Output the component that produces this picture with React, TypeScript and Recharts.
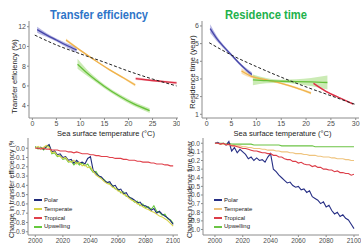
import { ComposedChart, LineChart, Line, Area, XAxis, YAxis, Legend } from 'recharts'

// ---- top panels: value vs sea surface temperature ----
const SST_TICKS = [0, 5, 10, 15, 20, 25, 30]

// transfer efficiency (%)
const TE_POLAR_SST = [1, 3, 5, 7, 9.2]
const TE_POLAR = [11.7, 11.15, 10.65, 10.15, 9.65]
const TE_POLAR_LO = [11.4, 10.95, 10.5, 9.95, 9.35]
const TE_POLAR_HI = [12.0, 11.35, 10.8, 10.35, 9.95]

const TE_TEMP_SST = [7, 10, 13, 16, 19, 21.4]
const TE_TEMP = [10.65, 9.6, 8.6, 7.65, 6.8, 6.1]
const TE_TEMP_LO = [10.5, 9.5, 8.52, 7.57, 6.7, 5.95]
const TE_TEMP_HI = [10.8, 9.7, 8.68, 7.73, 6.9, 6.25]

const TE_UPW_SST = [9.4, 12, 15, 18, 21, 24.4]
const TE_UPW = [8.2, 7.05, 5.95, 5.0, 4.2, 3.5]
const TE_UPW_LO = [7.75, 6.8, 5.75, 4.8, 3.98, 3.25]
const TE_UPW_HI = [8.75, 7.35, 6.15, 5.2, 4.42, 3.75]

const TE_TROP_SST = [21.5, 24, 27, 30]
const TE_TROP = [6.75, 6.6, 6.45, 6.3]
const TE_TROP_LO = [6.6, 6.5, 6.35, 6.15]
const TE_TROP_HI = [6.9, 6.7, 6.55, 6.45]

const TE_ALL_SST = [0.5, 5, 10, 15, 20, 25, 30]
const TE_ALL = [11.15, 10.15, 9.25, 8.4, 7.5, 6.7, 6.0]
const TE_TICKS = [4, 6, 8, 10, 12]

// residence time (year)
const RT_POLAR_SST = [0.7, 2, 3.5, 5, 6.5, 8, 9.1]
const RT_POLAR = [5.85, 5.3, 4.8, 4.35, 3.9, 3.5, 3.25]
const RT_POLAR_LO = [5.6, 5.15, 4.7, 4.27, 3.82, 3.4, 3.12]
const RT_POLAR_HI = [6.1, 5.45, 4.9, 4.43, 3.98, 3.6, 3.38]

const RT_TEMP_SST = [7, 9, 12, 15, 18, 21]
const RT_TEMP = [3.45, 3.15, 2.95, 2.75, 2.5, 2.2]
const RT_TEMP_LO = [3.3, 3.05, 2.9, 2.7, 2.44, 2.12]
const RT_TEMP_HI = [3.6, 3.25, 3.0, 2.8, 2.56, 2.28]

const RT_UPW_SST = [9.3, 12, 15, 18, 21, 24.3]
const RT_UPW = [2.95, 2.9, 2.87, 2.85, 2.83, 2.8]
const RT_UPW_LO = [2.65, 2.75, 2.78, 2.72, 2.6, 2.4]
const RT_UPW_HI = [3.25, 3.05, 2.96, 2.98, 3.06, 3.2]

const RT_TROP_SST = [21.5, 24, 27, 29.5]
const RT_TROP = [2.75, 2.3, 1.9, 1.58]
const RT_TROP_LO = [2.68, 2.25, 1.86, 1.52]
const RT_TROP_HI = [2.82, 2.35, 1.94, 1.64]

const RT_ALL_SST = [0.5, 5, 10, 15, 20, 25, 30]
const RT_ALL = [5.05, 4.35, 3.7, 3.1, 2.55, 2.05, 1.55]
const RT_TICKS = [1, 2, 3, 4, 5, 6]

// ---- bottom panels: change through time ----
const YEARS = [
  2000, 2002, 2004, 2006, 2008, 2010, 2012, 2014, 2016, 2018,
  2020, 2022, 2024, 2026, 2028, 2030, 2032, 2034, 2036, 2038,
  2040, 2042, 2044, 2046, 2048, 2050, 2052, 2054, 2056, 2058,
  2060, 2062, 2064, 2066, 2068, 2070, 2072, 2074, 2076, 2078,
  2080, 2082, 2084, 2086, 2088, 2090, 2092, 2094, 2096, 2098,
  2100,
]
const YEAR_TICKS = [2000, 2020, 2040, 2060, 2080, 2100]

const TE_CHG_POLAR = [
  0.01, 0.0, 0.01, -0.01, 0.02, 0.04, -0.04, -0.03, -0.07, -0.06,
  -0.1, -0.09, -0.13, -0.12, -0.16, -0.13, -0.16, -0.15, -0.17, -0.11,
  -0.09, -0.24, -0.27, -0.3, -0.31, -0.35, -0.37, -0.36, -0.41, -0.4,
  -0.45, -0.44, -0.49, -0.48, -0.53, -0.54, -0.56, -0.59, -0.58, -0.62,
  -0.62, -0.64, -0.67, -0.65, -0.7, -0.68, -0.71, -0.73, -0.75, -0.78,
  -0.82,
]
const TE_CHG_TEMP = [
  0.0, 0.02, 0.0, 0.01, 0.03, 0.01, -0.05, -0.04, -0.08, -0.09,
  -0.11, -0.1, -0.14, -0.15, -0.13, -0.17, -0.15, -0.19, -0.18, -0.21,
  -0.2, -0.25, -0.29, -0.31, -0.33, -0.36, -0.38, -0.39, -0.42, -0.43,
  -0.46, -0.47, -0.5, -0.51, -0.54, -0.56, -0.57, -0.6, -0.61, -0.63,
  -0.65, -0.66, -0.68, -0.69, -0.71, -0.73, -0.74, -0.76, -0.78, -0.81,
  -0.84,
]
const TE_CHG_TROP = [
  0.0, 0.0, -0.01, 0.0, -0.01, -0.01, -0.02, -0.02, -0.02, -0.03,
  -0.03, -0.03, -0.04, -0.04, -0.05, -0.04, -0.05, -0.06, -0.06, -0.06,
  -0.07, -0.07, -0.08, -0.08, -0.09, -0.09, -0.09, -0.1, -0.1, -0.11,
  -0.11, -0.11, -0.12, -0.12, -0.13, -0.13, -0.13, -0.14, -0.14, -0.15,
  -0.15, -0.15, -0.16, -0.16, -0.17, -0.17, -0.17, -0.18, -0.18, -0.19,
  -0.19,
]
const TE_CHG_UPW = [
  0.02, -0.01, 0.01, -0.02, 0.01, 0.03, -0.06, -0.05, -0.09, -0.08,
  -0.12, -0.11, -0.15, -0.14, -0.18, -0.15, -0.18, -0.16, -0.19, -0.17,
  -0.22, -0.26, -0.25, -0.3, -0.32, -0.34, -0.37, -0.38, -0.4, -0.44,
  -0.44, -0.48, -0.47, -0.52, -0.52, -0.55, -0.58, -0.57, -0.62, -0.6,
  -0.64, -0.63, -0.66, -0.62, -0.68, -0.69, -0.72, -0.71, -0.76, -0.77,
  -0.81,
]
const TE_CHG_TICKS = [0, -0.1, -0.2, -0.3, -0.4, -0.5, -0.6, -0.7, -0.8, -0.9]

const RT_CHG_POLAR = [
  0.0, 0.01, -0.01, 0.0, -0.02, 0.02, -0.09, -0.05, -0.11, -0.07,
  -0.1, -0.13, -0.18, -0.16, -0.2, -0.17, -0.2, -0.19, -0.22, -0.16,
  -0.12, -0.3, -0.33, -0.37, -0.4, -0.43, -0.46, -0.45, -0.49, -0.51,
  -0.5, -0.54, -0.53, -0.57, -0.55, -0.62, -0.64, -0.66, -0.7, -0.68,
  -0.74, -0.72, -0.78, -0.82, -0.8, -0.85, -0.83, -0.87, -0.89, -0.94,
  -0.99,
]
const RT_CHG_TEMP = [
  0.0, 0.0, -0.01, -0.01, -0.01, -0.02, -0.02, -0.03, -0.03, -0.03,
  -0.04, -0.04, -0.05, -0.05, -0.06, -0.06, -0.06, -0.07, -0.07, -0.08,
  -0.08, -0.08, -0.09, -0.09, -0.1, -0.1, -0.1, -0.11, -0.11, -0.12,
  -0.12, -0.12, -0.13, -0.13, -0.14, -0.14, -0.14, -0.15, -0.15, -0.16,
  -0.16, -0.16, -0.17, -0.17, -0.18, -0.18, -0.18, -0.19, -0.19, -0.2,
  -0.2,
]
const RT_CHG_TROP = [
  0.0, 0.0, -0.01, 0.0, -0.02, -0.01, -0.03, -0.03, -0.04, -0.05,
  -0.06, -0.06, -0.07, -0.08, -0.09, -0.09, -0.1, -0.11, -0.11, -0.12,
  -0.12, -0.14, -0.14, -0.16, -0.16, -0.18, -0.19, -0.19, -0.21, -0.21,
  -0.23, -0.22, -0.24, -0.25, -0.25, -0.27, -0.26, -0.28, -0.28, -0.3,
  -0.3, -0.31, -0.31, -0.33, -0.32, -0.34, -0.34, -0.35, -0.35, -0.37,
  -0.36,
]
const RT_CHG_UPW = [
  0.0, 0.0, 0.0, 0.0, -0.01, 0.0, -0.01, -0.01, -0.01, -0.01,
  -0.01, -0.01, -0.01, -0.01, -0.02, -0.02, -0.02, -0.02, -0.02, -0.02,
  -0.02, -0.02, -0.02, -0.02, -0.03, -0.03, -0.03, -0.03, -0.03, -0.03,
  -0.03, -0.03, -0.03, -0.03, -0.03, -0.03, -0.04, -0.04, -0.04, -0.04,
  -0.04, -0.04, -0.04, -0.04, -0.04, -0.04, -0.04, -0.04, -0.04, -0.04,
  -0.04,
]
const RT_CHG_TICKS = [0, -0.1, -0.2, -0.3, -0.4, -0.5, -0.6, -0.7, -0.8, -0.9, -1]

const REGIONS = ['Polar', 'Temperate', 'Tropical', 'Upwelling']

const FONT = '"Liberation Sans", Arial, sans-serif'
const AXIS_GREY = '#8c8c8c'
const TICK = { fontSize: 7, fill: '#4d4d4d', fontFamily: FONT }

const ribbon = (xs: number[], mid: number[], lo: number[], hi: number[]) =>
  xs.map((x, i) => ({ x, mid: mid[i], band: [lo[i], hi[i]] }))
const curve = (xs: number[], ys: number[]) => xs.map((x, i) => ({ x, mid: ys[i] }))

interface RibbonSeries {
  name: string
  color: string
  fill: string
  data: { x: number; mid: number; band: number[] }[]
}

interface SstPanelProps {
  left: number
  width: number
  yWidth: number
  yDomain: [number, number]
  xDomain: [number, number]
  yTicks: number[]
  series: RibbonSeries[]
  overall: { x: number; mid: number }[]
}

function SstPanel({ left, width, yWidth, yDomain, xDomain, yTicks, series, overall }: SstPanelProps) {
  return (
    <div style={{ position: 'absolute', left, top: 0 }}>
      <ComposedChart width={width} height={130} margin={{ top: 21, right: 2, bottom: 0, left: 0 }}>
        <XAxis
          dataKey="x"
          type="number"
          domain={xDomain}
          ticks={SST_TICKS}
          interval={0}
          allowDataOverflow
          height={12}
          tick={TICK}
          tickSize={2}
          tickMargin={1}
          stroke={AXIS_GREY}
        />
        <XAxis xAxisId="top" orientation="top" type="number" domain={xDomain} height={0} tick={false} tickLine={false} stroke={AXIS_GREY} />
        <YAxis
          type="number"
          domain={yDomain}
          ticks={yTicks}
          interval={0}
          allowDataOverflow
          width={yWidth}
          tick={TICK}
          tickSize={2}
          tickMargin={1}
          stroke={AXIS_GREY}
        />
        <YAxis yAxisId="right" orientation="right" type="number" domain={yDomain} width={0} tick={false} tickLine={false} stroke={AXIS_GREY} />
        {series.map((s) => (
          <Area
            key={s.name + '-band'}
            data={s.data}
            dataKey="band"
            type="monotone"
            stroke="none"
            fill={s.fill}
            fillOpacity={0.6}
            isAnimationActive={false}
          />
        ))}
        {series.map((s) => (
          <Line
            key={s.name}
            data={s.data}
            dataKey="mid"
            type="monotone"
            stroke={s.color}
            strokeWidth={1.3}
            dot={false}
            isAnimationActive={false}
          />
        ))}
        <Line
          data={overall}
          dataKey="mid"
          type="monotone"
          stroke="#222"
          strokeWidth={1}
          strokeDasharray="3 2"
          dot={false}
          isAnimationActive={false}
        />
      </ComposedChart>
    </div>
  )
}

function RegionLegend({ colors }: { colors: string[] }) {
  return (
    <div style={{ fontFamily: FONT, fontSize: 6, color: '#222', lineHeight: '8.8px' }}>
      {REGIONS.map((name, i) => (
        <div key={name} style={{ display: 'flex', alignItems: 'center', height: 8.8 }}>
          <span style={{ width: 8, height: 2, background: colors[i], marginRight: 2 }} />
          <span>{name}</span>
        </div>
      ))}
    </div>
  )
}

interface ChangePanelProps {
  left: number
  width: number
  yWidth: number
  xDomain: [number, number]
  yDomain: [number, number]
  yTicks: number[]
  values: number[][]
  colors: string[]
}

function ChangePanel({ left, width, yWidth, xDomain, yDomain, yTicks, values, colors }: ChangePanelProps) {
  const rows = YEARS.map((year, i) => ({
    year,
    Polar: values[0][i],
    Temperate: values[1][i],
    Tropical: values[2][i],
    Upwelling: values[3][i],
  }))
  const drawOrder = [3, 0, 1, 2]
  return (
    <div style={{ position: 'absolute', left, top: 130 }}>
      <LineChart width={width} height={115} data={rows} margin={{ top: 8, right: 2, bottom: 0, left: 0 }}>
        <XAxis
          dataKey="year"
          type="number"
          domain={xDomain}
          ticks={YEAR_TICKS}
          interval={0}
          allowDataOverflow
          height={10}
          tick={{ ...TICK, fontSize: 6.5 }}
          tickSize={2}
          tickMargin={1}
          stroke={AXIS_GREY}
        />
        <XAxis xAxisId="top" orientation="top" type="number" domain={xDomain} height={0} tick={false} tickLine={false} stroke={AXIS_GREY} />
        <YAxis
          type="number"
          domain={yDomain}
          ticks={yTicks}
          interval={0}
          allowDataOverflow
          width={yWidth}
          tick={{ ...TICK, fontSize: 6.5 }}
          tickFormatter={(v: number) => v.toFixed(1)}
          tickSize={2}
          tickMargin={1}
          stroke={AXIS_GREY}
        />
        <YAxis yAxisId="right" orientation="right" type="number" domain={yDomain} width={0} tick={false} tickLine={false} stroke={AXIS_GREY} />
        {drawOrder.map((i) => (
          <Line
            key={REGIONS[i]}
            dataKey={REGIONS[i]}
            type="linear"
            stroke={colors[i]}
            strokeWidth={1.1}
            dot={false}
            isAnimationActive={false}
          />
        ))}
        <Legend
          layout="vertical"
          align="center"
          verticalAlign="middle"
          wrapperStyle={{ left: 34, top: 66, width: 60 }}
          content={() => <RegionLegend colors={colors} />}
        />
      </LineChart>
    </div>
  )
}

const TOP_COLORS = {
  polar: ['#4646a8', '#8383d0'],
  temperate: ['#f0b24a', '#f6cf85'],
  tropical: ['#dc2f45', '#ef95a0'],
  upwelling: ['#66c13a', '#a9dd84'],
}

export default function App() {
  const teSeries: RibbonSeries[] = [
    { name: 'polar', color: TOP_COLORS.polar[0], fill: TOP_COLORS.polar[1], data: ribbon(TE_POLAR_SST, TE_POLAR, TE_POLAR_LO, TE_POLAR_HI) },
    { name: 'temperate', color: TOP_COLORS.temperate[0], fill: TOP_COLORS.temperate[1], data: ribbon(TE_TEMP_SST, TE_TEMP, TE_TEMP_LO, TE_TEMP_HI) },
    { name: 'upwelling', color: TOP_COLORS.upwelling[0], fill: TOP_COLORS.upwelling[1], data: ribbon(TE_UPW_SST, TE_UPW, TE_UPW_LO, TE_UPW_HI) },
    { name: 'tropical', color: TOP_COLORS.tropical[0], fill: TOP_COLORS.tropical[1], data: ribbon(TE_TROP_SST, TE_TROP, TE_TROP_LO, TE_TROP_HI) },
  ]
  const rtSeries: RibbonSeries[] = [
    { name: 'temperate', color: TOP_COLORS.temperate[0], fill: TOP_COLORS.temperate[1], data: ribbon(RT_TEMP_SST, RT_TEMP, RT_TEMP_LO, RT_TEMP_HI) },
    { name: 'upwelling', color: TOP_COLORS.upwelling[0], fill: TOP_COLORS.upwelling[1], data: ribbon(RT_UPW_SST, RT_UPW, RT_UPW_LO, RT_UPW_HI) },
    { name: 'polar', color: TOP_COLORS.polar[0], fill: TOP_COLORS.polar[1], data: ribbon(RT_POLAR_SST, RT_POLAR, RT_POLAR_LO, RT_POLAR_HI) },
    { name: 'tropical', color: TOP_COLORS.tropical[0], fill: TOP_COLORS.tropical[1], data: ribbon(RT_TROP_SST, RT_TROP, RT_TROP_LO, RT_TROP_HI) },
  ]

  return (
    <div style={{ position: 'absolute', left: 0, top: 0, width: 361, height: 245, background: '#fff', overflow: 'hidden' }}>
      <SstPanel
        left={0}
        width={180}
        yWidth={29}
        xDomain={[-0.7, 30.3]}
        yDomain={[2.75, 12.58]}
        yTicks={TE_TICKS}
        series={teSeries}
        overall={curve(TE_ALL_SST, TE_ALL)}
      />
      <SstPanel
        left={180}
        width={181}
        yWidth={22}
        xDomain={[-0.95, 30.66]}
        yDomain={[0.79, 6.28]}
        yTicks={RT_TICKS}
        series={rtSeries}
        overall={curve(RT_ALL_SST, RT_ALL)}
      />
      <ChangePanel
        left={0}
        width={180}
        yWidth={28}
        xDomain={[1994.7, 2103.5]}
        yDomain={[-0.935, 0.11]}
        yTicks={TE_CHG_TICKS}
        values={[TE_CHG_POLAR, TE_CHG_TEMP, TE_CHG_TROP, TE_CHG_UPW]}
        colors={['#1f2a7a', '#d8d44a', '#e0414b', '#66c93d']}
      />
      <ChangePanel
        left={180}
        width={181}
        yWidth={23}
        xDomain={[1991.4, 2103.6]}
        yDomain={[-1.064, 0.061]}
        yTicks={RT_CHG_TICKS}
        values={[RT_CHG_POLAR, RT_CHG_TEMP, RT_CHG_TROP, RT_CHG_UPW]}
        colors={['#272f85', '#efc47e', '#dc3d48', '#6cc445']}
      />
      <svg
        width={361}
        height={245}
        style={{ position: 'absolute', left: 0, top: 0, pointerEvents: 'none' }}
        fontFamily={FONT}
      >
        <defs>
          <clipPath id="lowerPanels">
            <rect x={0} y={141} width={361} height={104} />
          </clipPath>
        </defs>
        <text x={99} y={19} textAnchor="middle" fontSize={12} fontWeight="bold" fill="#2e75c8" textLength={98} lengthAdjust="spacingAndGlyphs">
          Transfer efficiency
        </text>
        <text x={266} y={19} textAnchor="middle" fontSize={12} fontWeight="bold" fill="#22b14c" textLength={82} lengthAdjust="spacingAndGlyphs">
          Residence time
        </text>
        <text x={106} y={136} textAnchor="middle" fontSize={7.5} fill="#222">
          Sea surface temperature (°C)
        </text>
        <text x={282.5} y={136} textAnchor="middle" fontSize={7.5} fill="#222">
          Sea surface temperature (°C)
        </text>
        <text x={14} y={76.5} transform="rotate(-90 14 76.5)" textAnchor="middle" dominantBaseline="central" fontSize={7.5} fill="#222">
          Transfer efficiency (%)
        </text>
        <text x={192.5} y={72} transform="rotate(-90 192.5 72)" textAnchor="middle" dominantBaseline="central" fontSize={7.5} fill="#222">
          Residence time (year)
        </text>
        <g clipPath="url(#lowerPanels)">
          <text x={11} y={238} transform="rotate(-90 11 238)" textAnchor="start" dominantBaseline="central" fontSize={7} fill="#222">
            Change in transfer efficiency (%)
          </text>
          <text x={189} y={238} transform="rotate(-90 189 238)" textAnchor="start" dominantBaseline="central" fontSize={7} fill="#222">
            Change in residence time (year)
          </text>
        </g>
      </svg>
    </div>
  )
}
